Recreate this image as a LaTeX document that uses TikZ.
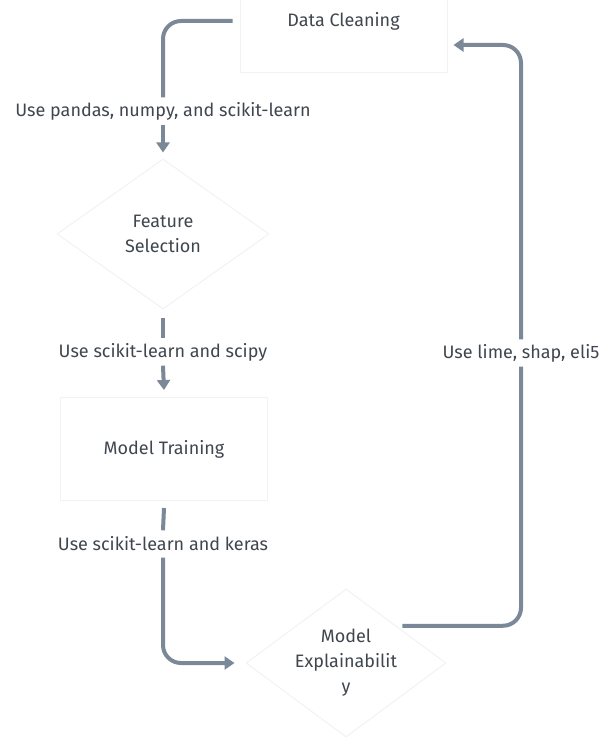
\documentclass[tikz,border=0pt]{standalone}
\usepackage{fontspec}
\setmainfont{Fira Sans}
\usetikzlibrary{arrows.meta,shapes.geometric}
\definecolor{edgegray}{HTML}{7A8898}
\definecolor{textgray}{HTML}{3F464E}
\definecolor{boxline}{HTML}{F0F2F4}
\tikzset{
  txt/.style={text=textgray, font=\fontsize{18}{25}\selectfont, align=center},
  stepbox/.style={txt, draw=boxline, line width=1pt, minimum width=207pt, minimum height=103pt},
  decision/.style={diamond, draw=boxline, line width=1pt, inner sep=0pt},
  edgelabel/.style={txt, minimum height=27pt, inner sep=0pt},
  conn/.style={draw=edgegray, line width=4pt, rounded corners=18pt},
  arrow/.style={conn, -{Triangle[width=13pt,length=10pt]}}
}
\begin{document}
\begin{tikzpicture}[x=1pt, y=-1pt]
    \useasboundingbox (0,0) rectangle (606,746);
    \clip (0,0) rectangle (606,746);
    % steps
    \node[stepbox] (dc) at (343.5,21) {Data Cleaning};
    \node[decision, minimum width=212pt, minimum height=150pt] (fs) at (163,234) {};
    \node[txt] (fstext) at (fs) {Feature\\Selection};
    \node[stepbox] (mt) at (164,449) {Model Training};
    \node[decision, minimum width=200pt, minimum height=148pt] (me) at (346,663) {};
    \node[txt] (metext) at (me) {Model\\Explainabilit\\y};
    % labels on the connectors
    \node[edgelabel] (l1) at (163,111) {Use pandas, numpy, and scikit-learn};
    \node[edgelabel] (l2) at (163,352) {Use scikit-learn and scipy};
    \node[edgelabel] (l3) at (163,544) {Use scikit-learn and keras};
    \node[edgelabel] (l4) at (521,353) {Use lime, shap, eli5};
    % connectors
    \draw[conn] ([xshift=-7pt]dc.west) -| (l1.north);
    \draw[arrow] (l1.south) -- ([yshift=6pt]fs.north);
    \draw[conn] ([yshift=-8pt]fs.south) -- (l2.north);
    \draw[arrow] (l2.south) -- ([yshift=7pt]mt.north);
    \draw[conn] ([yshift=-7pt]mt.south) -- (l3.north);
    \draw[arrow] (l3.south) |- ([xshift=-11pt]me.west);
    \draw[conn] ([xshift=6pt]me.north east) -| (l4.south);
    \draw[arrow] (l4.north) |- ([xshift=6pt,yshift=-24pt]dc.east);
\end{tikzpicture}
\end{document}
